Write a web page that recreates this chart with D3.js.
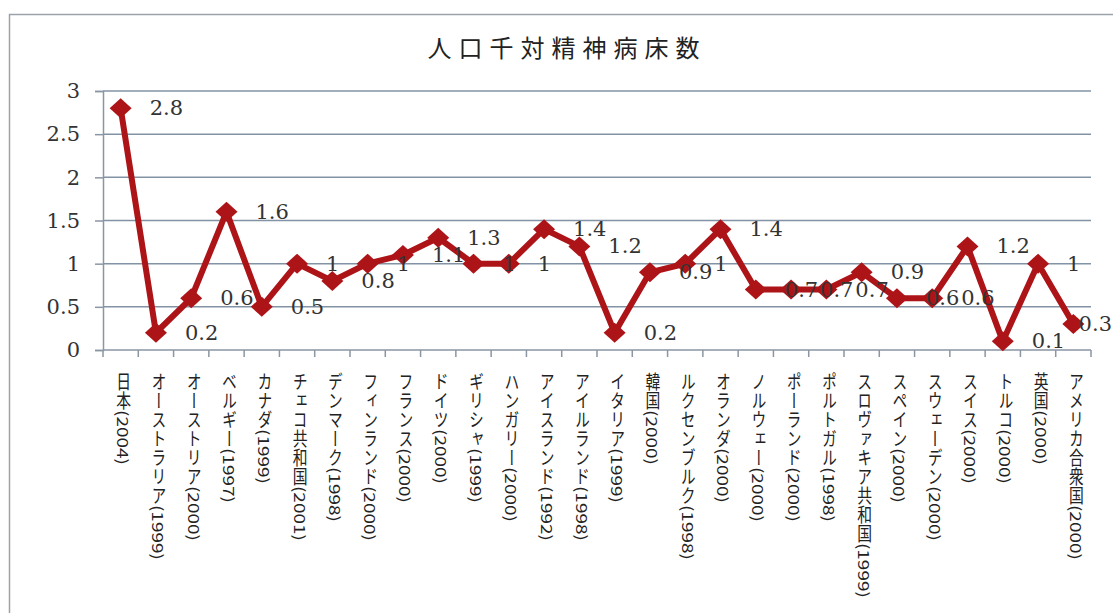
<!DOCTYPE html>
<html lang="ja">
<head>
<meta charset="utf-8">
<script src="https://cdn.jsdelivr.net/npm/d3@7/dist/d3.min.js"></script>
<style>
  html, body { margin: 0; padding: 0; background: #fff; }
  svg { display: block; }
</style>
</head>
<body>
<svg id="chart" width="1113" height="613"></svg>
<script>
// Psychiatric beds per 1,000 population, by country (survey year)
const categories = [
  "日本(2004)", "オーストラリア(1999)", "オーストリア(2000)", "ベルギー(1997)",
  "カナダ(1999)", "チェコ共和国(2001)", "デンマーク(1998)", "フィンランド(2000)",
  "フランス(2000)", "ドイツ(2000)", "ギリシャ(1999)", "ハンガリー(2000)",
  "アイスランド(1992)", "アイルランド(1998)", "イタリア(1999)", "韓国(2000)",
  "ルクセンブルク(1998)", "オランダ(2000)", "ノルウェー(2000)", "ポーランド(2000)",
  "ポルトガル(1998)", "スロヴァキア共和国(1999)", "スペイン(2000)", "スウェーデン(2000)",
  "スイス(2000)", "トルコ(2000)", "英国(2000)", "アメリカ合衆国(2000)"
];
const values = [
  2.8, 0.2, 0.6, 1.6, 0.5, 1.0, 0.8, 1.0, 1.1, 1.3, 1.0, 1.0, 1.4, 1.2,
  0.2, 0.9, 1.0, 1.4, 0.7, 0.7, 0.7, 0.9, 0.6, 0.6, 1.2, 0.1, 1.0, 0.3
];
const yTicks = [0, 0.5, 1, 1.5, 2, 2.5, 3];
const title = "人口千対精神病床数";

const W = 1113, H = 613;
const svg = d3.select("#chart");
const plot = { left: 103, right: 1091, top: 91, bottom: 350 };

const x = d3.scaleBand().domain(categories).range([plot.left, plot.right]);
const y = d3.scaleLinear().domain([0, 3]).range([plot.bottom, plot.top]);

const serif = "'DejaVu Serif', 'Liberation Serif', serif";
const gothic = "'Noto Sans CJK JP', 'Noto Sans', sans-serif";
const red = "#ad1418";

// chart frame
svg.append("path")
  .attr("d", `M9.5,${H} V14.5 H${W}`)
  .attr("fill", "none")
  .attr("stroke", "#9aa3ad")
  .attr("stroke-width", 1.5);

// title
svg.append("text")
  .attr("x", 567)
  .attr("y", 57)
  .attr("text-anchor", "middle")
  .attr("font-family", gothic)
  .attr("font-size", 24)
  .attr("letter-spacing", 7)
  .attr("fill", "#222")
  .text(title);

// horizontal gridlines
svg.append("g")
  .selectAll("line")
  .data(yTicks.filter(d => d > 0))
  .join("line")
  .attr("x1", plot.left)
  .attr("x2", plot.right)
  .attr("y1", d => y(d))
  .attr("y2", d => y(d))
  .attr("stroke", "#8293a6")
  .attr("stroke-width", 1.5);

// y axis
const yAxis = svg.append("g")
  .attr("transform", `translate(${plot.left},0)`)
  .call(d3.axisLeft(y).tickValues(yTicks).tickSize(8).tickPadding(15).tickFormat(d3.format("")));
yAxis.select(".domain").attr("stroke", "#8a96a3").attr("stroke-width", 1.5);
yAxis.selectAll(".tick line").attr("stroke", "#8a96a3").attr("stroke-width", 1.5);
yAxis.selectAll(".tick text")
  .attr("font-family", serif)
  .attr("font-size", 21)
  .attr("fill", "#333");

// x axis with ticks on category boundaries
const xAxisG = svg.append("g").attr("transform", `translate(0,${plot.bottom})`);
xAxisG.append("line")
  .attr("x1", plot.left).attr("x2", plot.right)
  .attr("stroke", "#8a96a3").attr("stroke-width", 1.5);
const boundaries = categories.map(c => x(c)).concat([plot.right]);
xAxisG.selectAll("line.tk")
  .data(boundaries)
  .join("line")
  .attr("class", "tk")
  .attr("x1", d => d).attr("x2", d => d)
  .attr("y1", 0).attr("y2", 7)
  .attr("stroke", "#8a96a3").attr("stroke-width", 1.5);

// vertical category labels
xAxisG.selectAll("g.lab")
  .data(categories)
  .join("g")
  .attr("class", "lab")
  .attr("transform", d => `translate(${x(d) + x.bandwidth() / 2 + 3},22) scale(0.78,1)`)
  .append("text")
  .attr("x", 0)
  .attr("y", 0)
  .style("writing-mode", "vertical-rl")
  .style("text-orientation", "mixed")
  .attr("font-family", gothic)
  .attr("font-size", 19)
  .attr("fill", "#222")
  .text(d => d);

const cx = d => x(d) + x.bandwidth() / 2;

// series line
svg.append("path")
  .datum(categories.map((c, i) => [cx(c), y(values[i])]))
  .attr("d", d3.line())
  .attr("fill", "none")
  .attr("stroke", red)
  .attr("stroke-width", 6)
  .attr("stroke-linejoin", "miter");

// diamond markers
svg.append("g")
  .selectAll("path")
  .data(categories)
  .join("path")
  .attr("transform", (c, i) => `translate(${cx(c)},${y(values[i])})`)
  .attr("d", "M0,-10 L11,0 L0,10 L-11,0 Z")
  .attr("fill", red);

// data labels to the right of each point, kept inside the frame
svg.append("g")
  .selectAll("text")
  .data(categories)
  .join("text")
  .attr("x", c => cx(c) + 29)
  .attr("y", (c, i) => y(values[i]) + 7)
  .attr("font-family", serif)
  .attr("font-size", 21)
  .attr("fill", "#333")
  .text((c, i) => d3.format("")(values[i]))
  .each(function () {
    const w = this.getComputedTextLength();
    const x0 = +this.getAttribute("x");
    if (x0 + w > W - 1) this.setAttribute("x", W - 1 - w);
  });
</script>
</body>
</html>
